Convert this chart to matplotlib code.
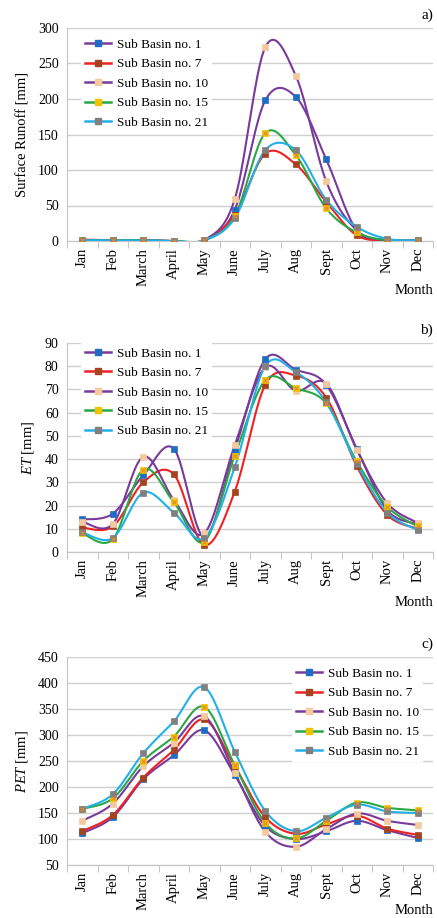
import numpy as np
import matplotlib
matplotlib.use("Agg")
import matplotlib.pyplot as plt
from matplotlib.lines import Line2D

plt.rcParams['font.family'] = ['Liberation Serif', 'DejaVu Serif']
plt.rcParams['mathtext.fontset'] = 'custom'
plt.rcParams['mathtext.it'] = 'Liberation Serif:italic'
plt.rcParams['mathtext.rm'] = 'Liberation Serif'

# ======= DATA =======
months = ['Jan', 'Feb', 'March', 'April', 'May', 'June', 'July', 'Aug',
          'Sept', 'Oct', 'Nov', 'Dec']
basins = ['Sub Basin no. 1', 'Sub Basin no. 7', 'Sub Basin no. 10',
          'Sub Basin no. 15', 'Sub Basin no. 21']

# surface runoff [mm]
runoff_sb1 = [1, 1, 1, 0, 1, 44, 198, 203, 115, 15, 2, 1]
runoff_sb7 = [2, 1, 1, 0, 1, 37, 123, 108, 55, 8, 1, 1]
runoff_sb10 = [1, 1, 1, 0, 1, 59, 273, 233, 84, 15, 1, 1]
runoff_sb15 = [1, 1, 1, 0, 1, 35, 152, 121, 46, 12, 1, 1]
runoff_sb21 = [1, 1, 1, 0, 1, 32, 128, 128, 58, 20, 3, 1]

# ET [mm]
et_sb1 = [14, 16.5, 33, 44.5, 6.5, 44, 83, 78.5, 72, 44.5, 18, 12]
et_sb7 = [10.5, 11, 30, 33.5, 3, 26, 72, 76, 66.5, 37, 16, 10]
et_sb10 = [13, 12, 41, 22.5, 8, 46, 79.5, 69.5, 72.5, 44, 21, 12.5]
et_sb15 = [8, 5.5, 35.5, 21.5, 4.5, 41.5, 74, 70.5, 64, 39, 19.5, 11]
et_sb21 = [8.5, 6, 25.5, 17, 6, 36.5, 80, 77.5, 64.5, 38, 17, 9.5]

# PET [mm]
pet_sb1 = [111, 142, 215, 261, 309, 223, 125, 100, 115, 135, 117, 102]
pet_sb7 = [115, 146, 218, 271, 330, 240, 142, 110, 128, 145, 120, 108]
pet_sb10 = [135, 168, 240, 285, 336, 227, 114, 85, 119, 149, 135, 127]
pet_sb15 = [158, 178, 250, 297, 354, 242, 131, 101, 135, 170, 160, 155]
pet_sb21 = [158, 186, 265, 326, 392, 268, 154, 115, 141, 166, 153, 150]

line_colors = ['#7a3a9a', '#ee2222', '#7a3a9a', '#2aa845', '#22b0e6']
marker_colors = ['#1f6dc2', '#a4431e', '#f4c99e', '#f2c200', '#808080']


def smooth(y, n=20):
    # Excel-like smoothed line (Catmull-Rom Bezier)
    y = np.asarray(y, dtype=float)
    x = np.arange(len(y), dtype=float)
    pts = np.column_stack([x, y])
    ext = np.vstack([pts[0], pts, pts[-1]])
    out = []
    t = np.linspace(0, 1, n)[:, None]
    for i in range(1, len(ext) - 2):
        p0, p1, p2, p3 = ext[i - 1], ext[i], ext[i + 1], ext[i + 2]
        c1 = p1 + (p2 - p0) / 6.0
        c2 = p2 - (p3 - p1) / 6.0
        seg = ((1 - t) ** 3) * p1 + 3 * ((1 - t) ** 2) * t * c1 \
            + 3 * (1 - t) * t ** 2 * c2 + t ** 3 * p2
        out.append(seg if i == 1 else seg[1:])
    seg = np.vstack(out)
    return seg[:, 0], seg[:, 1]


def draw_panel(ax, series, ylim, ystep, ylabel, legend_loc, legend_anchor):
    x = np.arange(len(months))
    for k, vals in enumerate(series):
        sx, sy = smooth(vals)
        ax.plot(sx, sy, color=line_colors[k], lw=1.5, zorder=3 + k * 0.1)
    for k, vals in enumerate(series):
        ax.plot(x, vals, ls='none', marker='s', ms=4.5, mfc=marker_colors[k],
                mec=marker_colors[k], mew=0.5, zorder=5)
        if k == 3:
            ax.plot(x, vals, ls='none', marker='x', ms=3.5, mec='#e58a2a',
                    mew=0.8, zorder=6)

    ax.set_xlim(-0.5, len(months) - 0.5)
    ax.set_ylim(*ylim)
    ax.set_yticks(np.arange(ylim[0], ylim[1] + 1, ystep))
    ax.set_xticks(x)
    ax.set_xticklabels(months, rotation=90, fontsize=10.5)
    ax.set_xticks(np.arange(-0.5, len(months), 1), minor=True)
    ax.tick_params(axis='x', which='major', length=0, pad=5)
    ax.tick_params(axis='x', which='minor', length=5, color='#b8b8b8')
    ax.tick_params(axis='y', length=0, labelsize=10, pad=6)
    ax.grid(axis='y', color='#cfcfcf', lw=1)
    ax.set_axisbelow(True)
    for s in ['top', 'right']:
        ax.spines[s].set_visible(False)
    for s in ['left', 'bottom']:
        ax.spines[s].set_color('#c4c4c4')
    ax.set_ylabel(ylabel, fontsize=10.5, labelpad=6)

    handles = [Line2D([0], [0], color=line_colors[k], lw=1.8, marker='s', ms=5,
                      mfc=marker_colors[k], mec=marker_colors[k])
               for k in range(len(basins))]
    leg = ax.legend(handles, basins, loc=legend_loc, bbox_to_anchor=legend_anchor,
                    fontsize=9.5, frameon=True, fancybox=False, framealpha=1,
                    edgecolor='none', handlelength=2.0, labelspacing=0.55,
                    borderpad=0.3, handletextpad=0.4)
    leg.set_zorder(10)


fig = plt.figure(figsize=(4.37, 9.18), dpi=100)
W, H = 437.0, 918.0


def axes_px(left, top, right, bottom):
    return fig.add_axes([left / W, 1 - bottom / H, (right - left) / W, (bottom - top) / H])


ax1 = axes_px(67, 28, 433, 241)
draw_panel(ax1, [runoff_sb1, runoff_sb7, runoff_sb10, runoff_sb15, runoff_sb21],
           (0, 300), 50, 'Surface Runoff [mm]', 'upper left', (0.02, 1.0))

ax2 = axes_px(67, 343, 433, 552)
draw_panel(ax2, [et_sb1, et_sb7, et_sb10, et_sb15, et_sb21],
           (0, 90), 10, r'$ET$ [mm]', 'upper left', (0.02, 1.03))

ax3 = axes_px(67, 657, 433, 865)
draw_panel(ax3, [pet_sb1, pet_sb7, pet_sb10, pet_sb15, pet_sb21],
           (50, 450), 50, r'$PET$ [mm]', 'upper right', (0.99, 1.0))

for txt, ypx in [('a)', 15), ('b)', 330), ('c)', 644)]:
    fig.text(433 / W, 1 - ypx / H, txt, ha='right', va='center', fontsize=11)
for ypx in [291, 602, 910]:
    fig.text(433 / W, 1 - ypx / H, 'Month', ha='right', va='center', fontsize=10.5)

fig.savefig('out.png', dpi=100)
